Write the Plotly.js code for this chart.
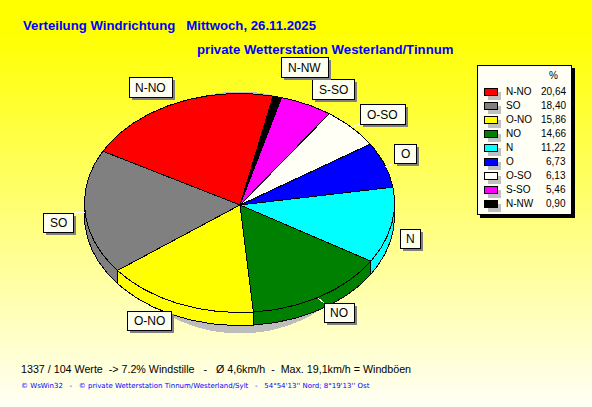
<!DOCTYPE html>
<html><head><meta charset="utf-8">
<script src="https://cdn.plot.ly/plotly-3.0.1.min.js"></script>
<style>
html,body{margin:0;padding:0;width:592px;height:407px;overflow:hidden;background:linear-gradient(to bottom,#ffff00 0px,#ffff00 30px,#fffff6 407px);}
#c{width:592px;height:407px;}
#c .scatterlayer path,#c .shapelayer path{shape-rendering:crispEdges;}
</style></head><body><div id="c"></div>
<script>
const categories=["N-NO","SO","O-NO","NO","N","O","O-SO","S-SO","N-NW"];
const shares=["20,64","18,40","15,86","14,66","11,22","6,73","6,13","5,46","0,90"];
const values=[20.64,18.40,15.86,14.66,11.22,6.73,6.13,5.46,0.90];
const colors=["#ff0000","#808080","#ffff00","#008000","#00ffff","#0000ff","#fffff6","#ff00ff","#000000"];
// label boxes [x0,y0,x1,y1] and the point on the rim each leader goes to
const labelBoxes=[[129,77,172,97],[43,213,73,232],[127,311,171,330],[324,303,354,322],[400,229,420,248],[394,144,416,163],[360,104,405,124],[312,79,354,99],[281,57,328,77]];
const leaders=[[175,94],[85,212],[177,312],[318,298],[394,227],[385,167],[353,127],[327,99],[277,78]];
const leaderEnds=[[172,97],[73,212],[171,311],[324,303],[400,229],[394,163],[360,124],[312,99],[281,77]];
const title1="Verteilung Windrichtung   Mittwoch, 26.11.2025";
const title2="private Wetterstation Westerland/Tinnum";
const info="1337 / 104 Werte  -> 7.2% Windstille   -   Ø 4,6km/h  -  Max. 19,1km/h = Windböen";
const credit="© WsWin32   -   © private Wetterstation Tinnum/Westerland/Sylt   -   54°54'13'' Nord; 8°19'13'' Ost";

const cx=239.5,cy=203,rx=155,ry=109.5,depth=13,startDeg=12.5,apexX=240,apexY=205;
const rad=d=>d*Math.PI/180;
const px=(t,dy=0)=>cx+rx*Math.sin(rad(t));
const py=(t,dy=0)=>cy-ry*Math.cos(rad(t))+dy;
function arc(a,b,dy){const n=Math.max(2,Math.ceil(Math.abs(a-b)));const X=[],Y=[];
  for(let i=0;i<=n;i++){const t=a+(b-a)*i/n;X.push(px(t));Y.push(py(t,dy));}return [X,Y];}
const traces=[];
function poly(X,Y,fill,lw){traces.push({type:"scatter",mode:"lines",x:X,y:Y,fill:"toself",fillcolor:fill,
  line:{color:lw?"#000":fill,width:lw?1:0},hoverinfo:"skip",showlegend:false});}
// soft shadow behind the pie
(()=>{const X=[],Y=[];for(let t=0;t<=360;t+=2){X.push(240+135*Math.sin(rad(t)));Y.push(212.5-121*Math.cos(rad(t)));}poly(X,Y,"#bdbdbd",0);})();
const total=values.reduce((s,v)=>s+v,0);
const spans=[];let cur=startDeg;
values.forEach(v=>{const nxt=cur-v/total*360;spans.push([cur,nxt]);cur=nxt;});
// side wall: only the lower half of the rim is visible
spans.forEach(([a,b],i)=>{const hi=Math.min(a,-90),lo=Math.max(b,-270);if(hi<=lo)return;
  const [X1,Y1]=arc(hi,lo,0),[X2,Y2]=arc(lo,hi,depth);
  poly(X1.concat(X2,[X1[0]]),Y1.concat(Y2,[Y1[0]]),colors[i],1);});
// top face
spans.forEach(([a,b],i)=>{const [X,Y]=arc(a,b,0);
  poly([apexX].concat(X,[apexX]),[apexY].concat(Y,[apexY]),colors[i],1);});

const shapes=[],annotations=[];
const rect=(x0,y0,x1,y1,fill,line)=>shapes.push({type:"rect",xref:"x",yref:"y",x0,y0,x1,y1,fillcolor:fill,line:{color:line||fill,width:line?1:0},layer:"above"});
const txt=(x,y,text,anchor,size,color,bold,fam)=>annotations.push({xref:"x",yref:"y",x,y,text:bold?"<b>"+text+"</b>":text,showarrow:false,xanchor:anchor,yanchor:"middle",font:{family:fam||"Liberation Sans",size,color},borderpad:0});
categories.forEach((c,i)=>{const b=labelBoxes[i];
  shapes.push({type:"line",xref:"x",yref:"y",x0:leaders[i][0],y0:leaders[i][1],x1:leaderEnds[i][0],y1:leaderEnds[i][1],line:{color:"#ffffff",width:1},layer:"above"});
  rect(b[0]+3,b[1]+3,b[2]+3,b[3]+3,"#808080");
  rect(b[0],b[1],b[2],b[3],"#fffff0","#000");
  txt((b[0]+b[2])/2,(b[1]+b[3])/2+.5,c,"center",12,"#000");
});
// legend panel
rect(480,68,574.5,218,"#000");
rect(477,65,571,214,"#fffff6","#000");
txt(553,75,"%","center",10,"#000");
categories.forEach((c,i)=>{const y=91.7+i*14;
  rect(488,y,501,y+8,"#c0c0c0");
  rect(484,y-3.7,497,y+3.7,colors[i],"#000");
  txt(505,y,c,"left",10,"#000");
  txt(566.5,y,shares[i],"right",10,"#000");
});
txt(22,25,title1,"left",13.2,"#0000ff",true);
txt(196,49,title2,"left",13.2,"#0000ff",true);
txt(20,369,info,"left",10.7,"#000");
txt(20,386,credit,"left",7,"#0000ff",false,"DejaVu Sans");

Plotly.newPlot("c",traces,{width:592,height:407,margin:{l:0,r:0,t:0,b:0,pad:0},
  paper_bgcolor:"rgba(0,0,0,0)",plot_bgcolor:"rgba(0,0,0,0)",showlegend:false,
  xaxis:{range:[0,592],visible:false,fixedrange:true},
  yaxis:{range:[407,0],visible:false,fixedrange:true},
  shapes,annotations},{displayModeBar:false,staticPlot:true});
</script></body></html>
